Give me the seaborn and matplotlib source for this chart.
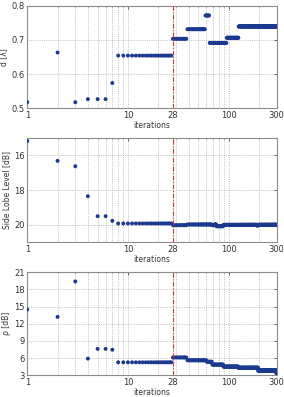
import numpy as np
import pandas as pd
import seaborn as sns
import matplotlib
matplotlib.use("Agg")
import matplotlib.pyplot as plt
from matplotlib.ticker import FixedLocator, NullFormatter

# values for iterations 1..7 read one by one, then runs of constant values (end iteration of each run)
d_first = [0.518, 0.663, 0.518, 0.527, 0.527, 0.527, 0.574]
d_run_vals = [0.654, 0.703, 0.731, 0.771, 0.691, 0.706, 0.739]
d_run_ends = [27, 38, 58, 64, 95, 125, 300]

sll_first = [15.17, 16.31, 16.62, 18.35, 19.5, 19.5, 19.77]
sll_run_vals = [19.92, 20.02, 19.98, 20.02, 19.97, 20.08, 20.0, 20.03, 20.0]
sll_run_ends = [27, 38, 68, 72, 75, 88, 190, 196, 300]

rho_first = [14.5, 13.2, 19.4, 5.9, 7.6, 7.6, 7.45]
rho_run_vals = [5.25, 6.1, 5.6, 5.35, 4.85, 4.5, 4.3, 3.8, 3.4]
rho_run_ends = [27, 38, 60, 68, 88, 124, 196, 297, 300]

xticks = [1, 10, 28, 100, 300]
switch_iter = 28


def expand(first, vals, ends):
    start = len(first) + 1
    out = list(first)
    for v, e in zip(vals, ends):
        out += [v] * (e - start + 1)
        start = e + 1
    return np.array(out)


iters = np.arange(1, 301)
df = pd.DataFrame({
    "iterations": iters,
    "d": expand(d_first, d_run_vals, d_run_ends),
    "sll": expand(sll_first, sll_run_vals, sll_run_ends),
    "rho": expand(rho_first, rho_run_vals, rho_run_ends),
})

sns.set_style("white")
plt.rcParams['font.family'] = ['DejaVu Sans']
plt.rcParams['font.size'] = 6

fig = plt.figure(figsize=(2.84, 3.97), dpi=100)
boxes = [(0.727, 0.986), (0.390, 0.652), (0.055, 0.314)]
axes = [fig.add_axes([0.096, b, 0.878, t - b]) for b, t in boxes]

panels = [
    ("d", "d [λ]", (0.5, 0.8), [0.5, 0.6, 0.7, 0.8], ["0.5", "0.6", "0.7", "0.8"]),
    ("sll", "Side Lobe Level [dB]", (21, 15), [16, 18, 20], ["16", "18", "20"]),
    ("rho", "ρ [dB]", (3, 21), [3, 6, 9, 12, 15, 18, 21], None),
]

minor = [m * 10 ** k for k in range(3) for m in range(2, 10) if m * 10 ** k < 300]

for ax, (col, ylab, ylim, yt, ytl) in zip(axes, panels):
    sns.scatterplot(data=df, x="iterations", y=col, ax=ax, color="#1b3a8f",
                    s=8, edgecolor="none", linewidth=0, zorder=3)
    ax.set_xscale("log")
    ax.set_xlim(1, 300)
    ax.set_ylim(*ylim)
    ax.xaxis.set_major_locator(FixedLocator(xticks))
    ax.set_xticklabels([str(x) for x in xticks])
    ax.xaxis.set_minor_locator(FixedLocator(minor))
    ax.xaxis.set_minor_formatter(NullFormatter())
    ax.set_yticks(yt)
    if ytl:
        ax.set_yticklabels(ytl)
    ax.grid(True, which="major", ls=":", lw=0.5, color="#9a9a9a", zorder=0)
    ax.grid(True, which="minor", axis="x", ls=":", lw=0.5, color="#9a9a9a", zorder=0)
    ax.axvline(switch_iter, color="#e03030", ls=(0, (4, 1.5, 1, 1.5)), lw=0.8, zorder=4)
    ax.tick_params(which="both", direction="in", length=2, width=0.5,
                   colors="#333333", labelsize=6, pad=2, top=True, right=True)
    ax.tick_params(which="minor", length=1)
    for sp in ax.spines.values():
        sp.set_color("#8c8c8c")
        sp.set_linewidth(0.8)
    ax.set_xlabel("iterations", fontsize=5.5, color="#333333", labelpad=0.5)
    ax.set_ylabel(ylab, fontsize=5.5, color="#333333", labelpad=2)

fig.savefig("out.png", dpi=100)
